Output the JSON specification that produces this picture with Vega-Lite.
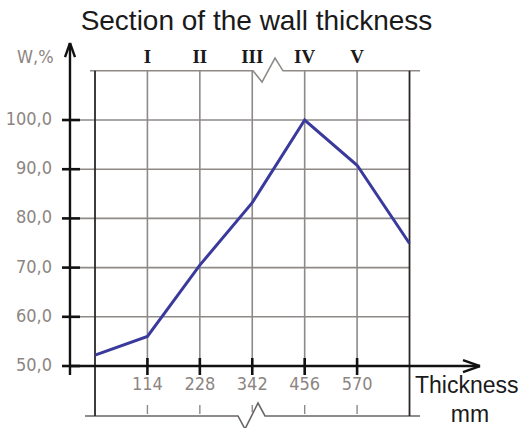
{
  "$schema": "https://vega.github.io/schema/vega-lite/v6.json",
  "autosize": "none",
  "width": 523,
  "height": 390,
  "padding": {"left": 0, "right": 0, "top": 38, "bottom": 0},
  "background": "white",
  "config": {"view": {"stroke": null}},
  "title": {"text": "Section of the wall thickness", "fontSize": 28, "font": "Liberation Sans", "fontWeight": "normal", "color": "#1a1a1a", "anchor": "middle", "baseline": "alphabetic", "offset": -20, "dx": -5},
  "datasets": {
    "curve": [
      {"x": 0, "y": 52.2}, {"x": 114, "y": 56.0}, {"x": 228, "y": 70.5}, {"x": 342, "y": 83.2},
      {"x": 456, "y": 100.0}, {"x": 570, "y": 90.8}, {"x": 684, "y": 74.9}
    ],
    "gridH": [
      {"x": -32.6, "x2": 684, "y": 60, "y2": 60}, {"x": -32.6, "x2": 684, "y": 70, "y2": 70},
      {"x": -32.6, "x2": 684, "y": 80, "y2": 80}, {"x": -32.6, "x2": 684, "y": 90, "y2": 90},
      {"x": -32.6, "x2": 684, "y": 100, "y2": 100}
    ],
    "gridV": [
      {"x": 114, "x2": 114, "y": 50, "y2": 110}, {"x": 228, "x2": 228, "y": 50, "y2": 110},
      {"x": 342, "x2": 342, "y": 50, "y2": 110}, {"x": 456, "x2": 456, "y": 50, "y2": 110},
      {"x": 570, "x2": 570, "y": 50, "y2": 110}
    ],
    "darkV": [
      {"x": 0, "x2": 0, "y": 39.84, "y2": 110}, {"x": 684, "x2": 684, "y": 39.84, "y2": 110}
    ],
    "axes": [
      {"x": -54.4, "x2": 837.3, "y": 50, "y2": 50}, {"x": -54.4, "x2": -54.4, "y": 48.17, "y2": 115.65}
    ],
    "arrows": [
      {"x": -54.4, "x2": -65.2, "y": 115.65, "y2": 112.8}, {"x": -54.4, "x2": -43.5, "y": 115.65, "y2": 112.8},
      {"x": 837.3, "x2": 800.3, "y": 50, "y2": 51.22}, {"x": 837.3, "x2": 800.3, "y": 50, "y2": 48.78}
    ],
    "yticks": [
      {"x": -71.8, "x2": -32.6, "y": 50, "y2": 50}, {"x": -71.8, "x2": -32.6, "y": 60, "y2": 60},
      {"x": -71.8, "x2": -32.6, "y": 70, "y2": 70}, {"x": -71.8, "x2": -32.6, "y": 80, "y2": 80},
      {"x": -71.8, "x2": -32.6, "y": 90, "y2": 90}, {"x": -71.8, "x2": -32.6, "y": 100, "y2": 100}
    ],
    "xticks": [
      {"x": 114, "x2": 114, "y": 48.17, "y2": 51.63}, {"x": 228, "x2": 228, "y": 48.17, "y2": 51.63},
      {"x": 342, "x2": 342, "y": 48.17, "y2": 51.63}, {"x": 456, "x2": 456, "y": 48.17, "y2": 51.63},
      {"x": 570, "x2": 570, "y": 48.17, "y2": 51.63}
    ],
    "stubs": [
      {"x": 114, "x2": 114, "y": 40.24, "y2": 42.07}, {"x": 228, "x2": 228, "y": 40.24, "y2": 42.07},
      {"x": 342, "x2": 342, "y": 40.6, "y2": 42.07}, {"x": 456, "x2": 456, "y": 40.24, "y2": 42.07},
      {"x": 570, "x2": 570, "y": 40.24, "y2": 42.07}
    ],
    "topBorder": [
      {"x": -10.9, "y": 110}, {"x": 343.6, "y": 110}, {"x": 363.2, "y": 107.72},
      {"x": 391.5, "y": 112.6}, {"x": 408.9, "y": 110}, {"x": 706.8, "y": 110}
    ],
    "bottomBorder": [
      {"x": -21.7, "y": 39.84}, {"x": 311.0, "y": 39.84}, {"x": 326.2, "y": 37.2},
      {"x": 354.5, "y": 42.48}, {"x": 369.7, "y": 39.84}, {"x": 706.8, "y": 39.84}
    ],
    "ylab": [
      {"x": -93.5, "y": 50, "label": "50,0"}, {"x": -93.5, "y": 60, "label": "60,0"},
      {"x": -93.5, "y": 70, "label": "70,0"}, {"x": -93.5, "y": 80, "label": "80,0"},
      {"x": -93.5, "y": 90, "label": "90,0"}, {"x": -93.5, "y": 100, "label": "100,0"}
    ],
    "xlab": [
      {"x": 114, "y": 46.14, "label": "114"}, {"x": 228, "y": 46.14, "label": "228"},
      {"x": 342, "y": 46.14, "label": "342"}, {"x": 456, "y": 46.14, "label": "456"},
      {"x": 570, "y": 46.14, "label": "570"}
    ],
    "roman": [
      {"x": 114, "y": 111.59, "label": "I"}, {"x": 228, "y": 111.59, "label": "II"},
      {"x": 342, "y": 111.59, "label": "III"}, {"x": 456, "y": 111.59, "label": "IV"},
      {"x": 570, "y": 111.59, "label": "V"}
    ],
    "ytitle": [{"x": -169.6, "y": 111.59, "label": "W,%"}],
    "xtitle1": [{"x": 695.9, "y": 44.51, "label": "Thickness"}],
    "xtitle2": [{"x": 815.5, "y": 38.62, "label": "mm"}]
  },
  "encoding": {
    "x": {"field": "x", "type": "quantitative", "scale": {"domain": [-206.6, 930.8], "nice": false, "zero": false}, "axis": null},
    "y": {"field": "y", "type": "quantitative", "scale": {"domain": [37.4, 116.67], "nice": false, "zero": false}, "axis": null}
  },
  "layer": [
    {"data": {"name": "gridH"}, "mark": {"type": "rule", "color": "#8e8a88", "strokeWidth": 1.6}, "encoding": {"x2": {"field": "x2"}, "y2": {"field": "y2"}}},
    {"data": {"name": "gridV"}, "mark": {"type": "rule", "color": "#8e8a88", "strokeWidth": 1.6}, "encoding": {"x2": {"field": "x2"}, "y2": {"field": "y2"}}},
    {"data": {"name": "stubs"}, "mark": {"type": "rule", "color": "#8e8a88", "strokeWidth": 1.4}, "encoding": {"x2": {"field": "x2"}, "y2": {"field": "y2"}}},
    {"data": {"name": "topBorder"}, "mark": {"type": "line", "color": "#8e8a88", "strokeWidth": 1.6}, "encoding": {}},
    {"data": {"name": "bottomBorder"}, "mark": {"type": "line", "color": "#6a6664", "strokeWidth": 1.6}, "encoding": {}},
    {"data": {"name": "darkV"}, "mark": {"type": "rule", "color": "#2a2826", "strokeWidth": 1.8}, "encoding": {"x2": {"field": "x2"}, "y2": {"field": "y2"}}},
    {"data": {"name": "axes"}, "mark": {"type": "rule", "color": "#111111", "strokeWidth": 2.4}, "encoding": {"x2": {"field": "x2"}, "y2": {"field": "y2"}}},
    {"data": {"name": "arrows"}, "mark": {"type": "rule", "color": "#111111", "strokeWidth": 2.4}, "encoding": {"x2": {"field": "x2"}, "y2": {"field": "y2"}}},
    {"data": {"name": "yticks"}, "mark": {"type": "rule", "color": "#111111", "strokeWidth": 2.6}, "encoding": {"x2": {"field": "x2"}, "y2": {"field": "y2"}}},
    {"data": {"name": "xticks"}, "mark": {"type": "rule", "color": "#111111", "strokeWidth": 2.6}, "encoding": {"x2": {"field": "x2"}, "y2": {"field": "y2"}}},
    {"data": {"name": "curve"}, "mark": {"type": "line", "color": "#3a3a9c", "strokeWidth": 3}, "encoding": {}},
    {"data": {"name": "ylab"}, "mark": {"type": "text", "align": "right", "baseline": "middle", "font": "DejaVu Sans Condensed, Liberation Sans", "fontSize": 18, "color": "#8c8582"}, "encoding": {"text": {"field": "label"}}},
    {"data": {"name": "xlab"}, "mark": {"type": "text", "align": "center", "baseline": "middle", "font": "DejaVu Sans Condensed, Liberation Sans", "fontSize": 18, "color": "#8c8582"}, "encoding": {"text": {"field": "label"}}},
    {"data": {"name": "ytitle"}, "mark": {"type": "text", "align": "left", "baseline": "alphabetic", "font": "DejaVu Sans Condensed, Liberation Sans", "fontSize": 18, "color": "#8c8582"}, "encoding": {"text": {"field": "label"}}},
    {"data": {"name": "roman"}, "mark": {"type": "text", "align": "center", "baseline": "alphabetic", "font": "Liberation Serif", "fontWeight": "bold", "fontSize": 19, "color": "#1a1a1a"}, "encoding": {"text": {"field": "label"}}},
    {"data": {"name": "xtitle1"}, "mark": {"type": "text", "align": "left", "baseline": "alphabetic", "font": "Liberation Sans", "fontSize": 23, "color": "#1a1a1a"}, "encoding": {"text": {"field": "label"}}},
    {"data": {"name": "xtitle2"}, "mark": {"type": "text", "align": "center", "baseline": "alphabetic", "font": "Liberation Sans", "fontSize": 23, "color": "#1a1a1a"}, "encoding": {"text": {"field": "label"}}}
  ]
}
